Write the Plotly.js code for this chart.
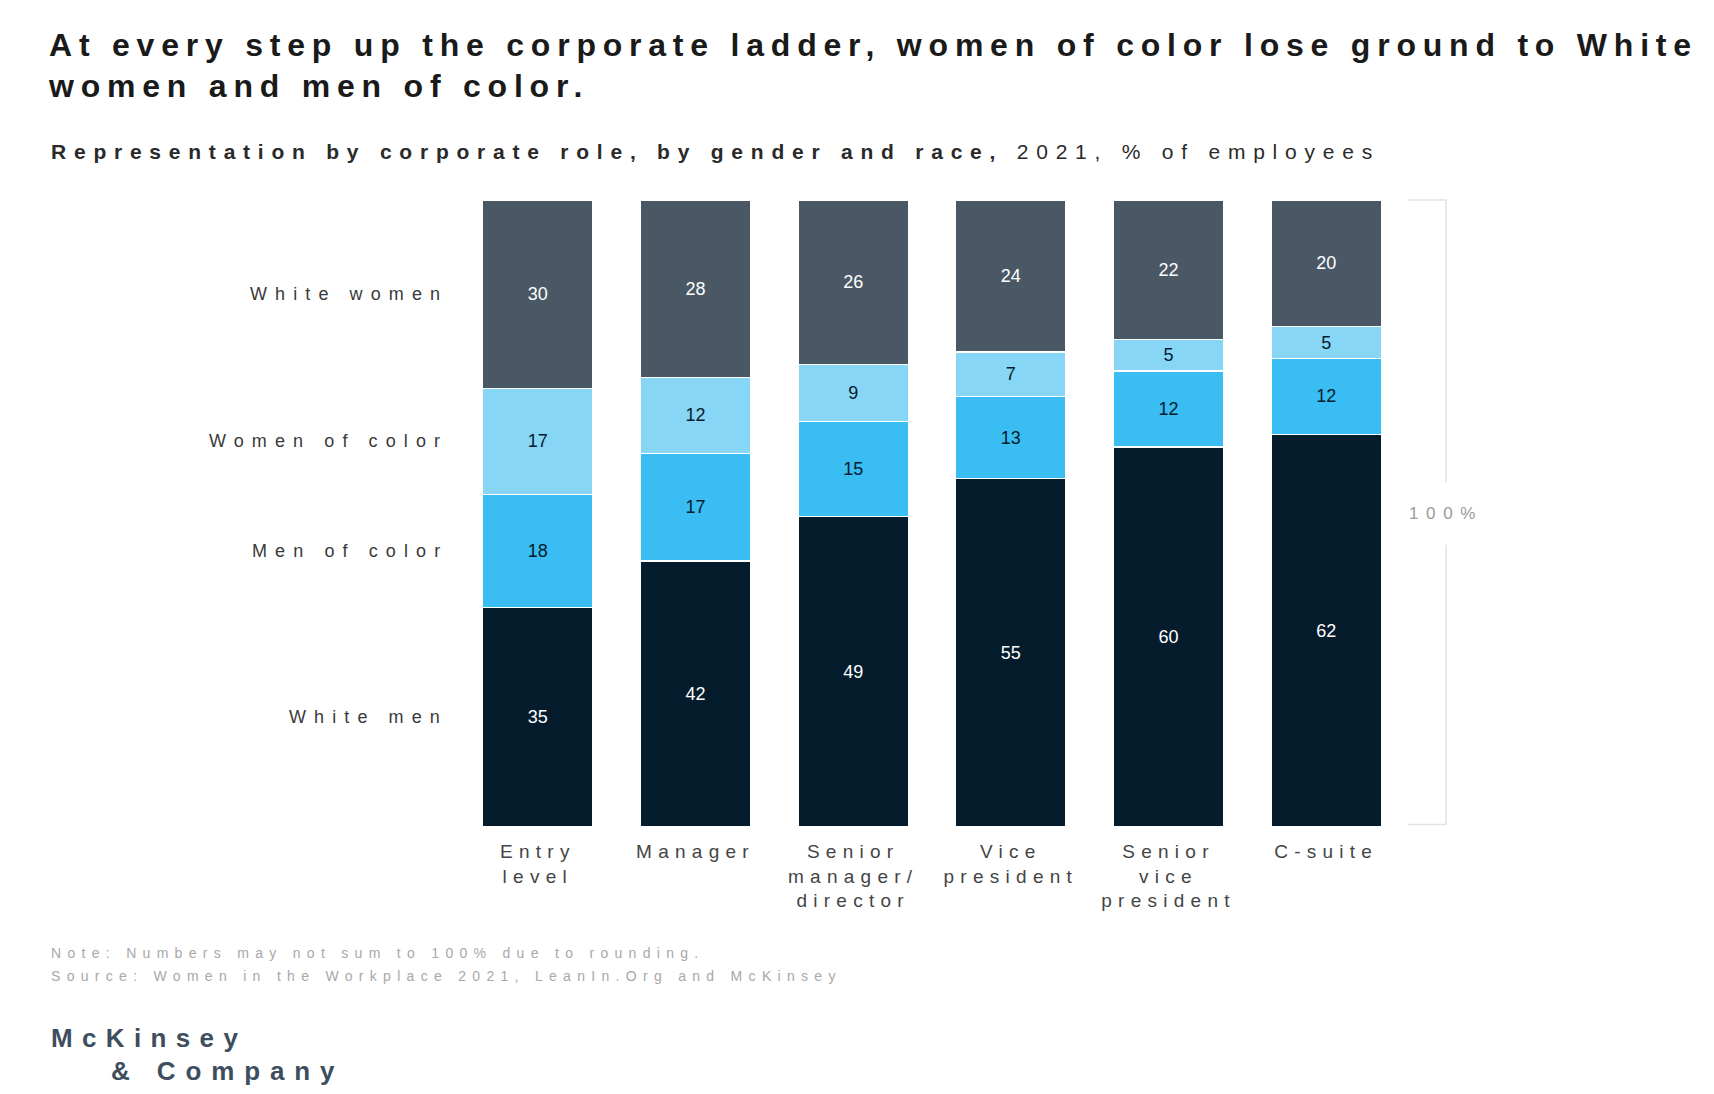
<!DOCTYPE html>
<html><head><meta charset="utf-8">
<script src="https://cdn.plot.ly/plotly-3.0.1.min.js"></script>
<style>
html,body{margin:0;padding:0;background:#fff;}
#chart{width:1714px;height:1094px;}
.gtitle{letter-spacing:0.212em;}
.annotation-text{letter-spacing:0.45em;}
.xtick text{letter-spacing:0.33em;}
</style></head><body><div id="chart"></div>
<script>
// Data
const roles = ["Entry<br>level","Manager","Senior<br>manager/<br>director","Vice<br>president","Senior<br>vice<br>president","C-suite"];
const whiteMen     = [35, 42, 49, 55, 60, 62];
const menOfColor   = [18, 17, 15, 13, 12, 12];
const womenOfColor = [17, 12,  9,  7,  5,  5];
const whiteWomen   = [30, 28, 26, 24, 22, 20];
const seriesNames  = ["White men", "Men of color", "Women of color", "White women"];
const totalLabel   = "100%";
const titleText = "At every step up the corporate ladder, women of color lose ground to White<br>women and men of color.";
const subtitleBold = "Representation by corporate role, by gender and race,";
const subtitleUnit = "2021, % of employees";
const noteLines = ["Note: Numbers may not sum to 100% due to rounding.",
                   "Source: Women in the Workplace 2021, LeanIn.Org and McKinsey"];
const logoLines = ["McKinsey", "& Company"];

// Styles
const FONT = "Liberation Sans, Arial, sans-serif";
const seriesValues = [whiteMen, menOfColor, womenOfColor, whiteWomen];
const colors = ["#051c2c", "#39bdf2", "#88d6f6", "#4a5866"];
const textColors = ["#ffffff", "#051c2c", "#051c2c", "#ffffff"];

const traces = seriesValues.map((vals, i) => ({
  type: "bar",
  name: seriesNames[i],
  x: roles,
  y: vals,
  text: vals.map(v => String(v)),
  textposition: "inside",
  insidetextanchor: "middle",
  textangle: 0,
  textfont: {family: FONT, size: 18, color: textColors[i]},
  marker: {color: colors[i], line: {color: "#ffffff", width: 1.2}},
  hoverinfo: "skip"
}));

// Row labels aligned with the first bar's segments
const firstTotal = seriesValues.reduce((s, v) => s + v[0], 0);
let cum = 0;
const annotations = [];
seriesValues.forEach((vals, i) => {
  const share = vals[0] / firstTotal * 100;
  annotations.push({
    xref: "paper", yref: "y", x: -0.009, y: cum + share / 2,
    xanchor: "right", yanchor: "middle", showarrow: false,
    text: seriesNames[i], font: {family: FONT, size: 18, color: "#3a3a3a"}
  });
  cum += share;
});

annotations.push({
  xref: "paper", yref: "paper", x: -0.4334, y: 1.078, xanchor: "left", yanchor: "middle",
  showarrow: false,
  text: '<span style="letter-spacing:0.37em"><b>' + subtitleBold + '</b> ' + subtitleUnit + '</span>',
  font: {family: FONT, size: 21, color: "#2a2a2a"}
});
annotations.push({
  xref: "paper", yref: "paper", x: 1.0433, y: 0.5, xanchor: "center", yanchor: "middle",
  showarrow: false, text: totalLabel, font: {family: FONT, size: 17, color: "#9a9a9a"}
});
annotations.push({
  xref: "paper", yref: "paper", x: -0.4334, y: -0.201, xanchor: "left", yanchor: "middle",
  showarrow: false, text: noteLines[0], font: {family: FONT, size: 14, color: "#a8a8a8"}
});
annotations.push({
  xref: "paper", yref: "paper", x: -0.4334, y: -0.2376, xanchor: "left", yanchor: "middle",
  showarrow: false, text: noteLines[1], font: {family: FONT, size: 14, color: "#a8a8a8"}
});
annotations.push({
  xref: "paper", yref: "paper", x: -0.4334, y: -0.3365, xanchor: "left", yanchor: "middle",
  showarrow: false, text: '<span style="letter-spacing:0.36em"><b>' + logoLines[0] + '</b></span>',
  font: {family: FONT, size: 26, color: "#3e4e5e"}
});
annotations.push({
  xref: "paper", yref: "paper", x: -0.37, y: -0.389, xanchor: "left", yanchor: "middle",
  showarrow: false, text: '<span style="letter-spacing:0.38em"><b>' + logoLines[1] + '</b></span>',
  font: {family: FONT, size: 26, color: "#3e4e5e"}
});

const shapes = [
  {type: "path", xref: "paper", yref: "paper",
   path: "M 1.0032 1 L 1.0433 1 L 1.0433 0.55",
   line: {color: "#e2e2e2", width: 1.5}},
  {type: "path", xref: "paper", yref: "paper",
   path: "M 1.0433 0.45 L 1.0433 0.004 L 1.0032 0.004",
   line: {color: "#e2e2e2", width: 1.5}}
];

const layout = {
  width: 1714, height: 1094,
  paper_bgcolor: "#ffffff", plot_bgcolor: "#ffffff",
  margin: {l: 459, r: 309, t: 200, b: 267},
  barmode: "stack", barnorm: "percent", bargap: 0.3,
  showlegend: false,
  title: {
    text: "<b>" + titleText + "</b>",
    x: 0.0286, xref: "container", xanchor: "left",
    y: 0.949, yref: "container", yanchor: "top",
    font: {family: FONT, size: 32, color: "#1a1a1a"}
  },
  xaxis: {
    type: "category", showgrid: false, zeroline: false, showline: false,
    ticks: "", tickangle: 0, ticklabelstandoff: 11,
    tickfont: {family: FONT, size: 19, color: "#444444"}
  },
  yaxis: {range: [0, 100], showgrid: false, zeroline: false, showline: false,
          showticklabels: false, ticks: "", fixedrange: true},
  annotations: annotations,
  shapes: shapes
};

Plotly.newPlot("chart", traces, layout, {displayModeBar: false, staticPlot: true});
</script></body></html>
